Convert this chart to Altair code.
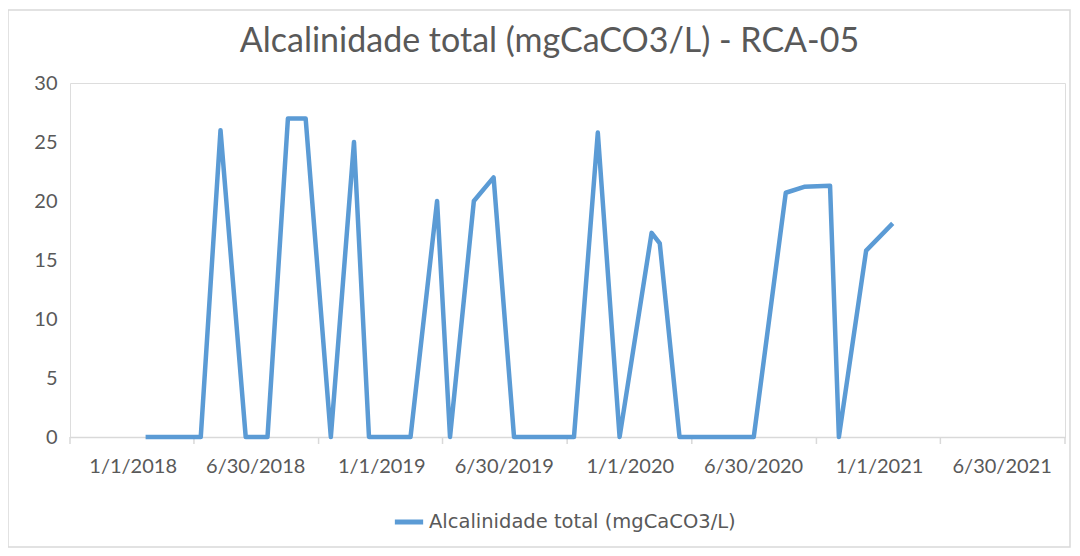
import altair as alt
import pandas as pd
from datetime import date

# ---- data ----
sample_dates = [
    "2018-01-20", "2018-02-15", "2018-03-15", "2018-04-11", "2018-05-10",
    "2018-06-16", "2018-07-18", "2018-08-17", "2018-09-12", "2018-10-19",
    "2018-11-22", "2018-12-14", "2019-01-18", "2019-02-13", "2019-03-24",
    "2019-04-12", "2019-05-17", "2019-06-15", "2019-07-15", "2019-08-13",
    "2019-09-11", "2019-10-11", "2019-11-15", "2019-12-17", "2020-02-02",
    "2020-02-14", "2020-03-14", "2020-04-04", "2020-05-06", "2020-06-05",
    "2020-07-01", "2020-08-17", "2020-09-13", "2020-10-21", "2020-11-03",
    "2020-12-13", "2021-01-21",
]
alcalinidade = [
    0, 0, 0, 0, 26,
    0, 0, 27, 27, 0,
    25, 0, 0, 0, 20,
    0, 20, 22, 0, 0,
    0, 0, 25.8, 0, 17.3,
    16.4, 0, 0, 0, 0,
    0, 20.7, 21.2, 21.3, 0,
    15.8, 18.1,
]
series_name = "Alcalinidade total (mgCaCO3/L)"
chart_title = "Alcalinidade total (mgCaCO3/L) - RCA-05"

label_dates = ["2018-01-01", "2018-06-30", "2019-01-01", "2019-06-30",
               "2020-01-01", "2020-06-30", "2021-01-01", "2021-06-30"]
tick_dates = ["2017-10-01", "2018-04-01", "2018-10-01", "2019-04-01",
              "2019-10-01", "2020-04-01", "2020-10-01", "2021-04-01",
              "2021-10-01"]
x_domain = ["2017-10-01", "2021-10-01"]
y_ticks = [0, 5, 10, 15, 20, 25, 30]


def dt(s):
    d = date.fromisoformat(s)
    return alt.DateTime(year=d.year, month=d.month, date=d.day, utc=True)


df = pd.DataFrame({"data": sample_dates, "valor": alcalinidade,
                   "serie": [series_name] * len(sample_dates)})
ticks_df = pd.DataFrame({"data": tick_dates})

W, H = 995, 354
FONT = "Lato"
GREY = "#595959"
AXIS_GREY = "#D9D9D9"

x_scale = alt.Scale(type="utc", domain=[dt(d) for d in x_domain])

line = alt.Chart(df).mark_line(strokeWidth=4.5, strokeJoin="round").encode(
    x=alt.X("data:T", scale=x_scale,
            axis=alt.Axis(values=[dt(d) for d in label_dates],
                          format="%-m/%-d/%Y", title=None, ticks=False,
                          domainColor=AXIS_GREY, domainWidth=1.5,
                          labelFont=FONT, labelFontSize=20, labelColor=GREY,
                          labelPadding=19, grid=False, labelOverlap=False)),
    y=alt.Y("valor:Q", scale=alt.Scale(domain=[0, 30]),
            axis=alt.Axis(values=y_ticks, title=None, domain=False, ticks=False,
                          grid=False, labelFont=FONT, labelFontSize=20,
                          labelColor=GREY, labelPadding=13)),
    color=alt.Color("serie:N", scale=alt.Scale(range=["#5B9BD5"]),
                    legend=alt.Legend(title=None, orient="none",
                                      legendX=322, legendY=422,
                                      symbolType="stroke", symbolSize=800,
                                      symbolStrokeWidth=5,
                                      labelFont="DejaVu Sans",
                                      labelFontSize=19.5, labelColor=GREY,
                                      labelOffset=3, labelLimit=0)),
)

tick_marks = alt.Chart(ticks_df).mark_rule(color=AXIS_GREY, strokeWidth=1.5).encode(
    x=alt.X("data:T", scale=x_scale),
    y=alt.value(H),
    y2=alt.value(H + 7),
)

frame = alt.Chart(ticks_df.head(1)).mark_rect(
    fill=None, stroke="#D9D9D9", strokeWidth=1.5
).encode(
    x=alt.value(-62), x2=alt.value(W + 5),
    y=alt.value(-73), y2=alt.value(H + 110),
)

chart = alt.layer(frame, tick_marks, line).properties(
    width=W, height=H,
    title=alt.Title(chart_title, font=FONT, fontSize=34, fontWeight="normal",
                    color=GREY, anchor="middle", dx=-18, offset=0, dy=50),
    autosize=alt.AutoSizeParams(type="none"),
    padding={"left": 62, "top": 75, "right": 7, "bottom": 111},
).configure_view(stroke=None).configure(background="white")

chart.save("out.html", embed_options={"renderer": "svg", "actions": False})
